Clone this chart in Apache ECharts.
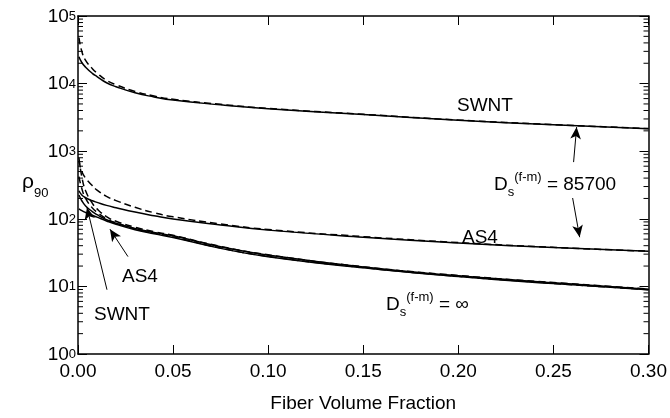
<!DOCTYPE html>
<html>
<head>
<meta charset="utf-8">
<script src="https://cdn.jsdelivr.net/npm/echarts@6/dist/echarts.min.js"></script>
<style>
html,body{margin:0;padding:0;background:#fff;}
#chart{width:670px;height:418px;}
</style>
</head>
<body>
<div id="chart"></div>
<script>
// Fiber volume fraction sample points
const xs = [0.0005, 0.002, 0.004, 0.0075, 0.01, 0.015, 0.02, 0.03, 0.04, 0.05, 0.075, 0.1, 0.15, 0.2, 0.25, 0.3];

// D_s(f-m) = 85700
const swnt85700Solid  = [25000, 20500, 17500, 14200, 12700, 10300, 9000, 7300, 6350, 5700, 4850, 4250, 3480, 2870, 2460, 2150];
const swnt85700Dashed = [48000, 30000, 22000, 16700, 14300, 11200, 9600, 7650, 6550, 5850, 4930, 4290, 3510, 2890, 2475, 2160];
const as485700Solid   = [260, 225, 205, 185, 175, 158, 146, 126, 111, 99, 81, 68, 53.5, 44, 37.5, 33];
const as485700Dashed  = [720, 500, 400, 310, 265, 215, 186, 148, 123, 107, 84, 69.5, 54.5, 44.5, 37.8, 33.2];

// D_s(f-m) = infinity
const swntInfSolid  = [225, 185, 155, 128, 115, 97, 86, 72, 63, 56, 38.5, 29, 19.3, 14.4, 11.3, 9.1];
const swntInfDashed = [800, 420, 260, 170, 140, 108, 92, 75, 64.5, 57, 39, 29.3, 19.5, 14.5, 11.4, 9.15];
const as4InfSolid   = [140, 132, 124, 113, 106, 93, 83, 69, 60, 53, 36.5, 27.5, 18.8, 14, 11, 8.9];
const as4InfDashed  = [420, 280, 200, 145, 125, 100, 87, 71, 61.5, 54, 37, 27.8, 19, 14.1, 11.1, 8.95];

// Axis ticks
const xTickValues = [0, 0.05, 0.10, 0.15, 0.20, 0.25, 0.30];
const yTickExponents = [0, 1, 2, 3, 4, 5];
const yMinorMultipliers = [2, 3, 4, 5, 6, 7, 8, 9];

// Annotation arrows: [fromX, fromY, toX, toY]
const arrowTopUp     = [0.2606, 690, 0.2622, 2275];
const arrowTopDown   = [0.2601, 203, 0.2638, 53.4];
const arrowAS4Low    = [0.02627, 27.6, 0.01681, 70.2];
const arrowSWNTLow   = [0.01524, 8.93, 0.00473, 147];
const arrows = [arrowTopUp, arrowTopDown, arrowAS4Low, arrowSWNTLow];

const FONT = '"Liberation Sans", Arial, Helvetica, sans-serif';

function pairs(ys) { return xs.map((x, i) => [x, ys[i]]); }

const minorTickData = [];
for (let e = yTickExponents[0]; e < yTickExponents[yTickExponents.length - 1]; e++) {
  yMinorMultipliers.forEach(m => minorTickData.push([0, m * Math.pow(10, e)]));
}

const chart = echarts.init(document.getElementById('chart'), null, {renderer: 'canvas'});

function lineSeries(name, ys, dashed) {
  return {
    name: name, type: 'line', data: pairs(ys), xAxisIndex: 0, yAxisIndex: 0,
    showSymbol: false, symbol: 'none', smooth: 0.5,
    lineStyle: {color: '#000', width: 1.5, type: dashed ? [7, 4] : 'solid'},
    silent: true, z: 3
  };
}

const series = [
  lineSeries('SWNT 85700 solid', swnt85700Solid, false),
  lineSeries('SWNT 85700 dashed', swnt85700Dashed, true),
  lineSeries('AS4 85700 solid', as485700Solid, false),
  lineSeries('AS4 85700 dashed', as485700Dashed, true),
  lineSeries('SWNT inf solid', swntInfSolid, false),
  lineSeries('SWNT inf dashed', swntInfDashed, true),
  lineSeries('AS4 inf solid', as4InfSolid, false),
  lineSeries('AS4 inf dashed', as4InfDashed, true),
  {
    name: 'arrows', type: 'line', data: [], xAxisIndex: 0, yAxisIndex: 0, silent: true,
    markLine: {
      silent: true, animation: false,
      symbol: ['none', 'arrow'], symbolSize: [8, 12],
      label: {show: false},
      lineStyle: {color: '#000', width: 1, type: 'solid'},
      emphasis: {disabled: true},
      data: arrows.map(a => [{coord: [a[0], a[1]]}, {coord: [a[2], a[3]]}])
    }
  },
  {
    name: 'minorTicks', type: 'custom', data: minorTickData, xAxisIndex: 0, yAxisIndex: 0,
    silent: true, clip: false, z: 4,
    encode: {x: 0, y: 1},
    renderItem: function (params, api) {
      const v = api.value(1);
      const pl = api.coord([0, v]);
      const pr = api.coord([0.3, v]);
      return {
        type: 'group',
        children: [
          {type: 'line', shape: {x1: pl[0], y1: pl[1], x2: pl[0] + 5, y2: pl[1]}, style: {stroke: '#000', lineWidth: 1}},
          {type: 'line', shape: {x1: pr[0] - 5, y1: pr[1], x2: pr[0], y2: pr[1]}, style: {stroke: '#000', lineWidth: 1}}
        ]
      };
    }
  }
];

const axisLineStyle = {show: true, onZero: false, lineStyle: {color: '#000', width: 1.5}};

const option = {
  animation: false,
  backgroundColor: '#fff',
  grid: {left: 78, right: 21, top: 7.5, bottom: 53, containLabel: false},
  xAxis: [
    {
      type: 'value', position: 'bottom', min: 0, max: 0.3, interval: 0.05,
      axisLine: axisLineStyle,
      axisTick: {show: true, inside: true, length: 9, lineStyle: {color: '#000', width: 1}},
      splitLine: {show: false},
      axisLabel: {
        show: true, margin: 8, color: '#000', fontSize: 19, fontFamily: FONT,
        showMinLabel: true, showMaxLabel: true,
        formatter: v => {
          const t = xTickValues.find(tv => Math.abs(tv - v) < 1e-9);
          return t === undefined ? '' : t.toFixed(2);
        }
      },
      name: 'Fiber Volume Fraction', nameLocation: 'middle', nameGap: 40,
      nameTextStyle: {color: '#000', fontSize: 19, fontFamily: FONT}
    },
    {
      type: 'value', position: 'top', min: 0, max: 0.3, interval: 0.05,
      axisLine: axisLineStyle,
      axisTick: {show: true, inside: true, length: 9, lineStyle: {color: '#000', width: 1}},
      splitLine: {show: false}, axisLabel: {show: false}
    }
  ],
  yAxis: [
    {
      type: 'log', logBase: 10, min: 1, max: 100000, position: 'left',
      axisLine: axisLineStyle,
      axisTick: {show: true, inside: true, length: 9, lineStyle: {color: '#000', width: 1}},
      splitLine: {show: false},
      axisLabel: {
        show: true, margin: 2, color: '#000', fontFamily: FONT,
        formatter: v => {
          const e = Math.round(Math.log10(v));
          return yTickExponents.indexOf(e) >= 0 ? '{b|10}{s|' + e + '}' : '';
        },
        rich: {
          b: {fontSize: 19, fontFamily: FONT, color: '#000', lineHeight: 20, padding: [7, 0, 0, 0], verticalAlign: 'bottom'},
          s: {fontSize: 13, fontFamily: FONT, color: '#000', lineHeight: 13, padding: [4, 0, 0, 0], verticalAlign: 'top'}
        }
      }
    },
    {
      type: 'log', logBase: 10, min: 1, max: 100000, position: 'right',
      axisLine: axisLineStyle,
      axisTick: {show: true, inside: true, length: 9, lineStyle: {color: '#000', width: 1}},
      splitLine: {show: false}, axisLabel: {show: false}
    }
  ],
  graphic: [
    {type: 'text', left: 22, top: 172, silent: true,
     style: {text: '{r|ρ}{sub|90}', rich: {
       r: {fontSize: 21, fontFamily: FONT, fill: '#000', lineHeight: 28, verticalAlign: 'top'},
       sub: {fontSize: 13, fontFamily: FONT, fill: '#000', lineHeight: 13, verticalAlign: 'bottom'}
     }}},
    {type: 'text', left: 457, top: 96, silent: true,
     style: {text: 'SWNT', fontSize: 19, fontFamily: FONT, fill: '#000'}},
    {type: 'text', left: 494, top: 171, silent: true,
     style: {text: '{d|D}{sub|s}{sup|(f-m)}{t| = 85700}', rich: {
       d: {fontSize: 19, fontFamily: FONT, fill: '#000', lineHeight: 28},
       t: {fontSize: 19, fontFamily: FONT, fill: '#000', lineHeight: 28},
       sub: {fontSize: 13, fontFamily: FONT, fill: '#000', lineHeight: 13, verticalAlign: 'bottom'},
       sup: {fontSize: 13, fontFamily: FONT, fill: '#000', lineHeight: 13, verticalAlign: 'top'}
     }}},
    {type: 'text', left: 462, top: 228, silent: true,
     style: {text: 'AS4', fontSize: 19, fontFamily: FONT, fill: '#000'}},
    {type: 'text', left: 386, top: 291, silent: true,
     style: {text: '{d|D}{sub|s}{sup|(f-m)}{t| = ∞}', rich: {
       d: {fontSize: 19, fontFamily: FONT, fill: '#000', lineHeight: 28},
       t: {fontSize: 19, fontFamily: FONT, fill: '#000', lineHeight: 28},
       sub: {fontSize: 13, fontFamily: FONT, fill: '#000', lineHeight: 13, verticalAlign: 'bottom'},
       sup: {fontSize: 13, fontFamily: FONT, fill: '#000', lineHeight: 13, verticalAlign: 'top'}
     }}},
    {type: 'text', left: 122, top: 267, silent: true,
     style: {text: 'AS4', fontSize: 19, fontFamily: FONT, fill: '#000'}},
    {type: 'text', left: 94, top: 305, silent: true,
     style: {text: 'SWNT', fontSize: 19, fontFamily: FONT, fill: '#000'}}
  ],
  series: series
};

chart.setOption(option);
</script>
</body>
</html>
